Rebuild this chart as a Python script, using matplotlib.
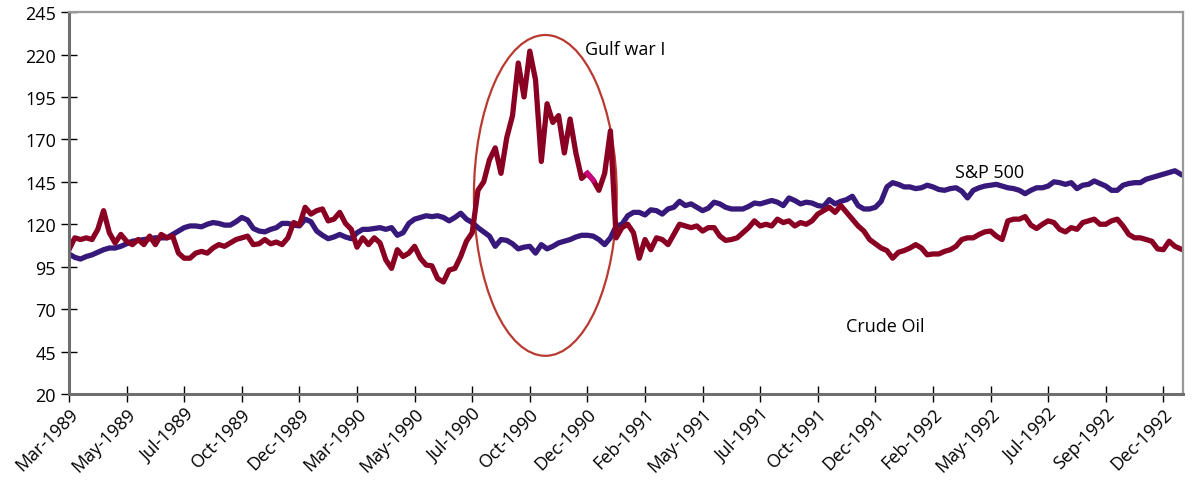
import matplotlib
matplotlib.use('Agg')
import numpy as np
import matplotlib.pyplot as plt
from matplotlib.patches import Ellipse

plt.rcParams['font.family'] = ['Open Sans', 'DejaVu Sans']

# weekly readings, Mar-1989 .. Dec-1992 (index = week number)
crude_oil = [
    105, 112, 111, 112, 111, 117, 128, 115, 109, 114, 110, 108, 111, 108, 113, 108,
    114, 112, 113, 103, 100, 100, 103, 104, 103, 106, 108, 107, 109, 111, 112, 113, 108,
    108.5, 111, 108.5, 109.5, 108, 112, 121, 119.5, 130, 126, 128, 129, 122, 123, 127,
    120.5, 117, 106.5, 112, 108, 112, 109, 99, 94, 105, 101, 103, 107, 100, 96, 95.5, 88,
    86, 93, 94, 101, 110, 115, 140, 145, 158, 165, 150, 171, 184, 215, 195, 222,
    205, 157, 191, 180, 184, 162, 182, 162, 147, 150, 146, 140, 150, 175, 112, 118,
    120, 115, 100, 111, 105, 112, 111, 108, 114, 120, 119, 118, 119, 116, 118, 118,
    113, 110.5, 111, 112, 115, 118, 122, 119, 120, 119, 123, 121, 122, 119, 121, 120,
    122, 126, 128, 130, 127, 131, 127, 123, 119, 116, 111, 108.5, 106, 104.5, 100, 103.5,
    104.5, 106, 108, 106, 102, 102.5, 102.5, 104, 105, 107, 111, 112, 112, 114, 115.5, 116,
    113, 111, 122, 123, 123, 124.5, 119.5, 117.5, 120, 122, 121, 117, 115.5, 118, 117, 121,
    122, 123, 120, 120, 122, 123, 119, 114, 112, 112, 111, 110, 105.5, 105, 110, 107, 105.5,
]
sp500 = [
    102.5, 100.5, 99.5, 101, 102, 103.5, 105, 106, 106, 107, 108.5, 110, 110.5, 111, 111.5, 112,
    112, 112, 114, 116, 118, 119, 119, 118.5, 120, 121, 120.5, 119.5, 119.5, 121.5, 124, 122.5, 117.5,
    116, 115.5, 117, 118, 120.5, 120.5, 119.5, 119, 123, 121.5, 116, 113.5, 111.5, 112.5, 114,
    112.5, 111.5, 115, 117, 117, 117.5, 118, 117, 118, 113.5, 115, 120.5, 123, 124, 125, 124.5, 125,
    124, 122, 124, 126.5, 123, 121, 118, 115.5, 113, 107, 111, 110.5, 108.5, 105.5, 106.5, 107,
    103, 108, 105.5, 107, 109, 110, 111, 112.5, 113.5, 113.5, 113, 111, 108, 112, 119, 120,
    125, 127, 127, 125.5, 128.5, 128, 126, 129, 130, 133.5, 131, 132, 130, 128, 129.5, 133,
    132, 130, 129, 129, 129, 130.5, 132.5, 132, 133, 134, 133, 131, 135.5, 134, 132, 133,
    132.5, 131, 130.5, 134.5, 132, 133.5, 134.5, 136.5, 131, 129, 129, 130, 133.5, 142, 144.5, 143.5,
    142, 142, 141, 141.5, 143, 142, 140.5, 140, 141, 141.5, 139.5, 135.5, 140, 141.5, 142.5, 143,
    143.5, 142.5, 141.5, 141, 140, 138, 140, 141.5, 141.5, 142.5, 145, 144.5, 143.5, 144.5, 141, 143,
    143.5, 145.5, 144, 142.5, 140, 140, 143, 144, 144.5, 144.5, 146.5, 147.5, 148.5, 149.5, 150.5, 151.5, 149.5,
]
tick_labels = ['Mar-1989', 'May-1989', 'Jul-1989', 'Oct-1989', 'Dec-1989', 'Mar-1990',
               'May-1990', 'Jul-1990', 'Oct-1990', 'Dec-1990', 'Feb-1991', 'May-1991',
               'Jul-1991', 'Oct-1991', 'Dec-1991', 'Feb-1992', 'May-1992', 'Jul-1992',
               'Sep-1992', 'Dec-1992']

x = np.arange(len(crude_oil))

fig = plt.figure(figsize=(11.92, 4.85), dpi=100)
ax = fig.add_axes([0.0579, 0.1856, 0.9345, 0.7874])

oil_color = '#8a0022'
sp_color = '#36197a'
ax.plot(x, sp500, color=sp_color, linewidth=3.8, solid_joinstyle='round')
ax.plot(x, crude_oil, color=oil_color, linewidth=3.8, solid_joinstyle='round')
# small magenta blip inside the Gulf-war period
ax.plot(x[90:92], crude_oil[90:92], color='#c8007c', linewidth=3.8)

ax.add_patch(Ellipse((82.7, 137), 24.8, 189, fill=False,
                     edgecolor='#b83a30', linewidth=1.6))

ax.text(89.6, 223, 'Gulf war I', fontsize=13, va='center', ha='left')
ax.text(153.8, 151, 'S&P 500', fontsize=13, va='center', ha='left')
ax.text(134.9, 60, 'Crude Oil', fontsize=13, va='center', ha='left')

ax.set_xlim(0, 193.4)
ax.set_ylim(20, 245)
ax.set_yticks(np.arange(20, 246, 25))
ax.set_xticks(np.arange(0, 10 * len(tick_labels), 10))
ax.set_xticklabels(tick_labels, rotation=45, ha='right', rotation_mode='anchor')

ax.tick_params(axis='both', direction='inout', length=11, width=1, color='black',
               labelsize=13)
ax.tick_params(axis='y', pad=4)
ax.tick_params(axis='x', pad=2)

for side in ['left', 'bottom']:
    ax.spines[side].set_color('#6e6e6e')
    ax.spines[side].set_linewidth(2.2)
for side in ['top', 'right']:
    ax.spines[side].set_color('#9a9a9a')
    ax.spines[side].set_linewidth(1.6)

fig.savefig('out.png', dpi=100)
